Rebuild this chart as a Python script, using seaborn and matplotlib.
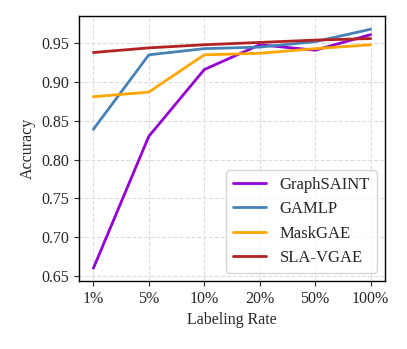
import matplotlib
matplotlib.use("Agg")
import matplotlib.pyplot as plt
import seaborn as sns
import pandas as pd

rates = ["1%", "5%", "10%", "20%", "50%", "100%"]
graphsaint = [0.660, 0.830, 0.916, 0.948, 0.941, 0.961]
gamlp = [0.839, 0.935, 0.943, 0.945, 0.952, 0.968]
maskgae = [0.881, 0.887, 0.935, 0.937, 0.943, 0.948]
slavgae = [0.938, 0.944, 0.948, 0.951, 0.954, 0.956]

series = {"GraphSAINT": graphsaint, "GAMLP": gamlp, "MaskGAE": maskgae, "SLA-VGAE": slavgae}
colors = {"GraphSAINT": "#9400D3", "GAMLP": "#4682B4", "MaskGAE": "#FFA500", "SLA-VGAE": "#B22222"}

rows = []
for name, vals in series.items():
    for i, (r, v) in enumerate(zip(rates, vals)):
        rows.append({"x": i, "rate": r, "acc": v, "model": name})
df = pd.DataFrame(rows)

sns.set_style("ticks")
plt.rcParams["font.family"] = ["Liberation Serif", "DejaVu Serif"]

fig = plt.figure(figsize=(4.07, 3.49), dpi=100)
ax = fig.add_axes([0.194, 0.195, 0.752, 0.759])
sns.lineplot(data=df, x="x", y="acc", hue="model", palette=colors, linewidth=2, ax=ax)

ax.set_xticks(range(len(rates)))
ax.set_xticklabels(rates, fontsize=11.5)
yt = [0.65, 0.70, 0.75, 0.80, 0.85, 0.90, 0.95]
ax.set_yticks(yt)
ax.set_yticklabels([f"{v:.2f}" for v in yt], fontsize=11.5)
ax.set_xlim(-0.26, 5.26)
ax.set_ylim(0.6436, 0.985)
ax.set_xlabel("Labeling Rate", fontsize=11.5)
ax.set_ylabel("Accuracy", fontsize=11.5)
ax.grid(True, linestyle="--", color="#dddddd", linewidth=0.8)
for s in ax.spines.values():
    s.set_color("black")
    s.set_linewidth(1.0)
ax.tick_params(direction="out", length=3.5, width=0.8)
leg = ax.legend(loc="lower right", fontsize=12, frameon=True, fancybox=True, title=None,
                handlelength=2.0, handletextpad=0.8)
leg.get_frame().set_edgecolor("#cccccc")
fig.savefig("out.png", dpi=100)
